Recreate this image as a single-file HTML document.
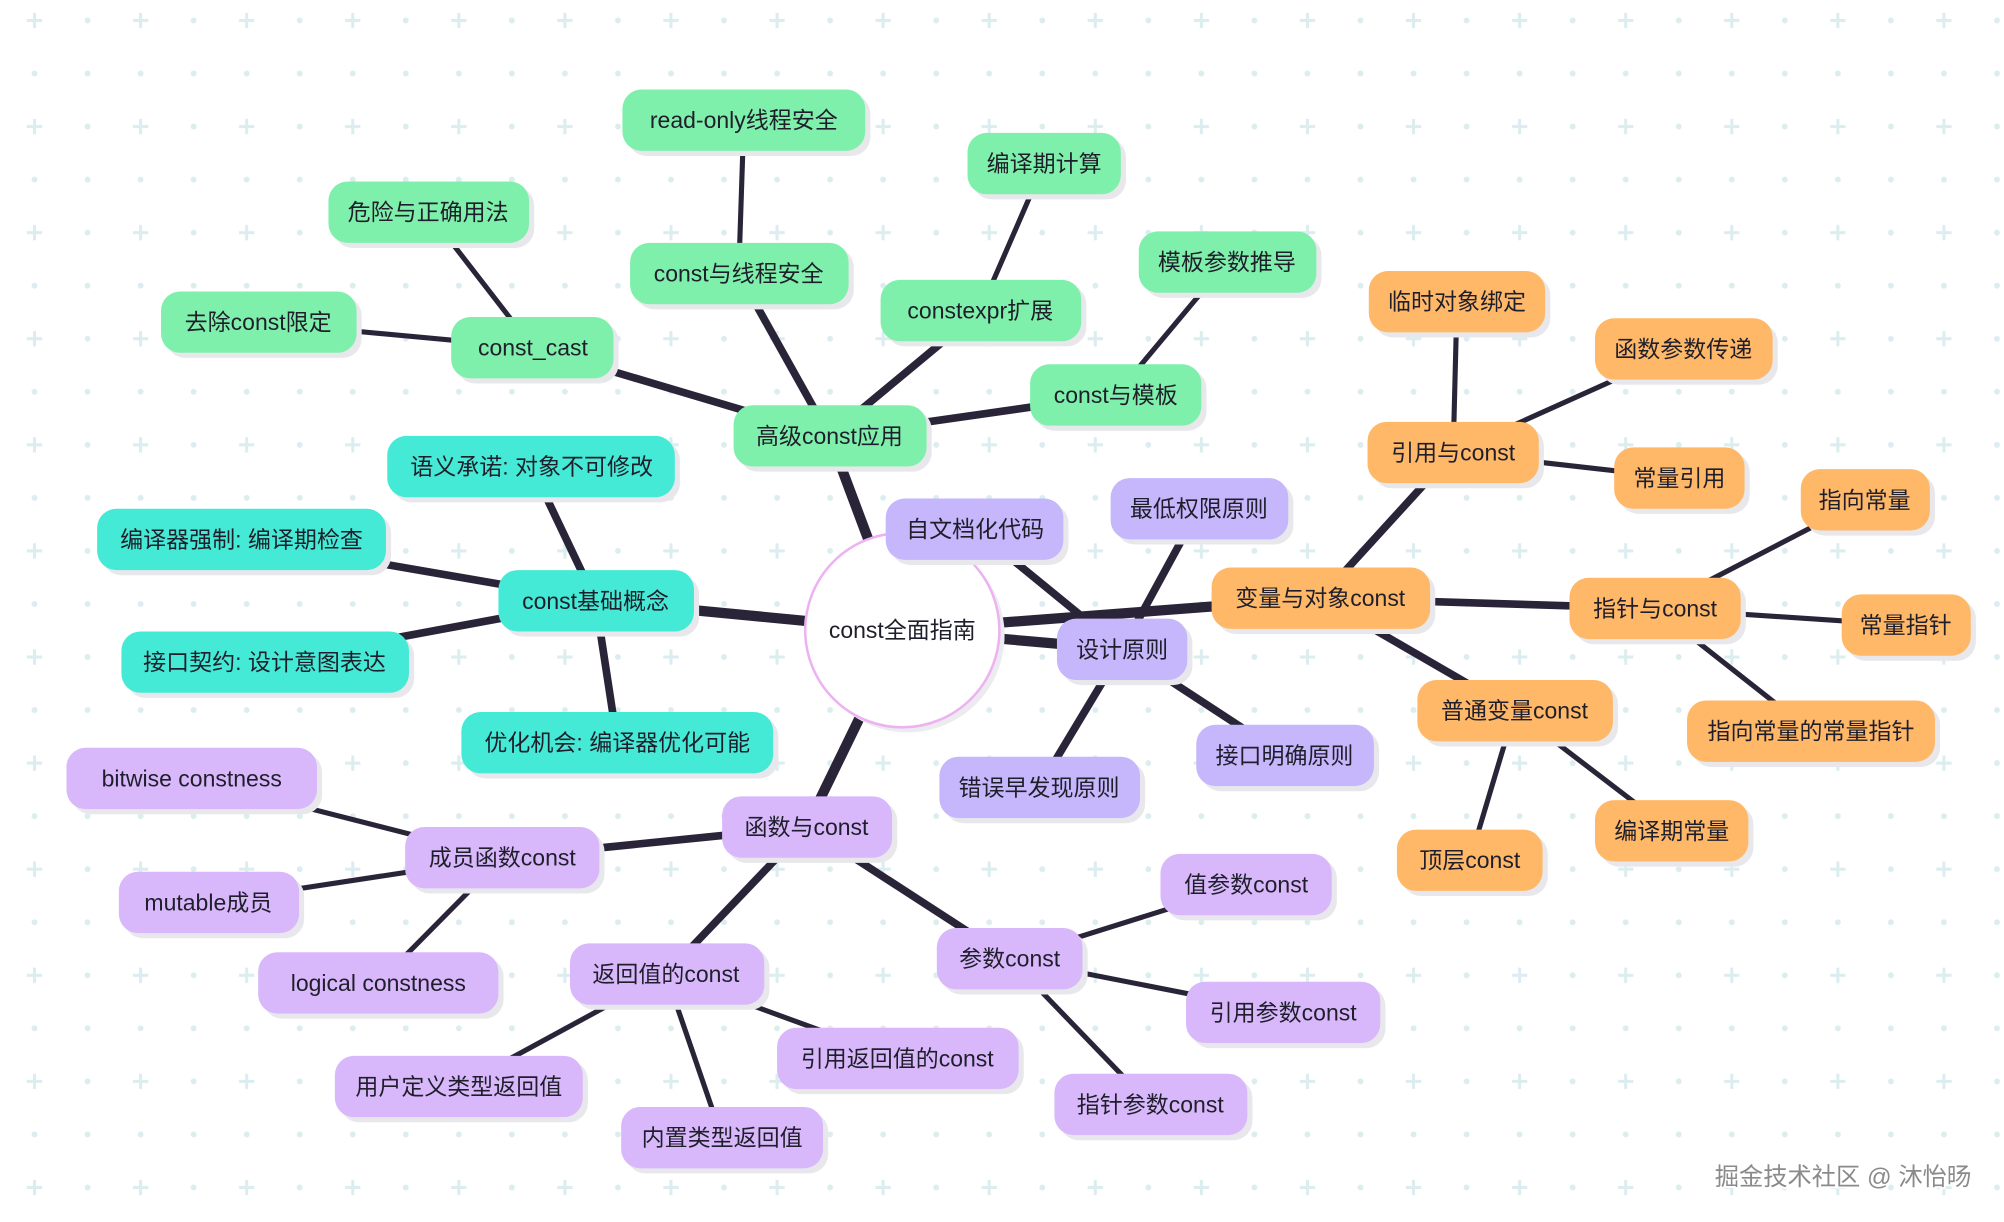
<!DOCTYPE html>
<html><head><meta charset="utf-8"><style>
html,body{margin:0;padding:0;background:#fff;width:2004px;height:1222px;overflow:hidden}
svg{display:block}
text{font-family:"Liberation Sans","Noto Sans CJK SC",sans-serif;font-size:18px;fill:#1f1f2b;text-anchor:middle;dominant-baseline:central}
</style></head><body>
<svg width="2004" height="1222" viewBox="0 0 1568 956" preserveAspectRatio="none" xmlns="http://www.w3.org/2000/svg">
<defs>
<pattern id="g" x="27" y="16" width="83" height="83" patternUnits="userSpaceOnUse">
<g fill="#dcedf0">
<rect x="-1.2" y="-6" width="2.4" height="12"/><rect x="-6" y="-1.2" width="12" height="2.4"/>
<rect x="81.8" y="-6" width="2.4" height="12"/><rect x="77" y="-1.2" width="12" height="2.4"/>
<rect x="-1.2" y="77" width="2.4" height="12"/><rect x="-6" y="81.8" width="12" height="2.4"/>
<rect x="81.8" y="77" width="2.4" height="12"/><rect x="77" y="81.8" width="12" height="2.4"/>
<circle cx="41.5" cy="0" r="2.3"/><circle cx="0" cy="41.5" r="2.3"/><circle cx="41.5" cy="41.5" r="2.3"/>
<circle cx="41.5" cy="83" r="2.3"/><circle cx="83" cy="41.5" r="2.3"/>
</g>
</pattern>
</defs>
<rect width="1568" height="956" fill="url(#g)"/>
<g stroke="#2a2438" stroke-linecap="round">
<g stroke-width="8">
<line x1="706" y1="493" x2="649" y2="341"/><line x1="706" y1="493" x2="466" y2="470"/>
<line x1="706" y1="493" x2="1033" y2="468"/><line x1="706" y1="493" x2="878" y2="508"/>
<line x1="706" y1="493" x2="631" y2="647"/>
</g>
<g stroke-width="6">
<line x1="649" y1="341" x2="417" y2="272"/><line x1="649" y1="341" x2="578" y2="214"/>
<line x1="649" y1="341" x2="767" y2="243"/><line x1="649" y1="341" x2="873" y2="309"/>
<line x1="466" y1="470" x2="416" y2="365"/><line x1="466" y1="470" x2="189" y2="422"/>
<line x1="466" y1="470" x2="207" y2="518"/><line x1="466" y1="470" x2="483" y2="581"/>
<line x1="878" y1="508" x2="763" y2="414"/><line x1="878" y1="508" x2="938" y2="398"/>
<line x1="878" y1="508" x2="1005" y2="591"/><line x1="878" y1="508" x2="813" y2="616"/>
<line x1="1033" y1="468" x2="1137" y2="354"/><line x1="1033" y1="468" x2="1295" y2="476"/>
<line x1="1033" y1="468" x2="1185" y2="556"/>
<line x1="631" y1="647" x2="393" y2="671"/><line x1="631" y1="647" x2="521" y2="762"/>
<line x1="631" y1="647" x2="790" y2="750"/>
</g>
<g stroke-width="4">
<line x1="417" y1="272" x2="335" y2="166"/><line x1="417" y1="272" x2="202" y2="252"/>
<line x1="578" y1="214" x2="582" y2="94"/><line x1="767" y1="243" x2="817" y2="128"/>
<line x1="873" y1="309" x2="960" y2="205"/>
<line x1="1137" y1="354" x2="1140" y2="236"/><line x1="1137" y1="354" x2="1317" y2="273"/>
<line x1="1137" y1="354" x2="1314" y2="374"/>
<line x1="1295" y1="476" x2="1459" y2="391"/><line x1="1295" y1="476" x2="1491" y2="489"/>
<line x1="1295" y1="476" x2="1417" y2="572"/>
<line x1="1185" y1="556" x2="1308" y2="650"/><line x1="1185" y1="556" x2="1150" y2="673"/>
<line x1="393" y1="671" x2="150" y2="609"/><line x1="393" y1="671" x2="163" y2="706"/>
<line x1="393" y1="671" x2="296" y2="769"/>
<line x1="521" y1="762" x2="359" y2="850"/><line x1="521" y1="762" x2="565" y2="890"/>
<line x1="521" y1="762" x2="702" y2="828"/>
<line x1="790" y1="750" x2="975" y2="692"/><line x1="790" y1="750" x2="1004" y2="792"/>
<line x1="790" y1="750" x2="900" y2="864"/>
</g>
</g>
<circle cx="710" cy="497" r="76" fill="#ececf0"/>
<circle cx="706" cy="493" r="76" fill="#fff" stroke="#ecb2f2" stroke-width="2"/>
<text x="706" y="493">const全面指南</text>
<g id="nodes"></g>
<!-- green -->
<g>
<rect x="491" y="74" width="190" height="48" rx="15" fill="#e8e8ec"/><rect x="487" y="70" width="190" height="48" rx="15" fill="#7ff0ab"/><text x="582" y="94">read-only线程安全</text>
<rect x="761" y="108" width="120" height="48" rx="15" fill="#e8e8ec"/><rect x="757" y="104" width="120" height="48" rx="15" fill="#7ff0ab"/><text x="817" y="128">编译期计算</text>
<rect x="261" y="146" width="157" height="48" rx="15" fill="#e8e8ec"/><rect x="257" y="142" width="157" height="48" rx="15" fill="#7ff0ab"/><text x="335" y="166">危险与正确用法</text>
<rect x="497" y="194" width="171" height="48" rx="15" fill="#e8e8ec"/><rect x="493" y="190" width="171" height="48" rx="15" fill="#7ff0ab"/><text x="578" y="214">const与线程安全</text>
<rect x="693" y="223" width="157" height="48" rx="15" fill="#e8e8ec"/><rect x="689" y="219" width="157" height="48" rx="15" fill="#7ff0ab"/><text x="767" y="243">constexpr扩展</text>
<rect x="895" y="185" width="139" height="48" rx="15" fill="#e8e8ec"/><rect x="891" y="181" width="139" height="48" rx="15" fill="#7ff0ab"/><text x="960" y="205">模板参数推导</text>
<rect x="130" y="232" width="153" height="48" rx="15" fill="#e8e8ec"/><rect x="126" y="228" width="153" height="48" rx="15" fill="#7ff0ab"/><text x="202" y="252">去除const限定</text>
<rect x="357" y="252" width="127" height="48" rx="15" fill="#e8e8ec"/><rect x="353" y="248" width="127" height="48" rx="15" fill="#7ff0ab"/><text x="417" y="272">const_cast</text>
<rect x="810" y="289" width="134" height="48" rx="15" fill="#e8e8ec"/><rect x="806" y="285" width="134" height="48" rx="15" fill="#7ff0ab"/><text x="873" y="309">const与模板</text>
<rect x="578" y="321" width="151" height="48" rx="15" fill="#e8e8ec"/><rect x="574" y="317" width="151" height="48" rx="15" fill="#7ff0ab"/><text x="649" y="341">高级const应用</text>
</g>
<!-- teal -->
<g>
<rect x="307" y="345" width="225" height="48" rx="15" fill="#e8e8ec"/><rect x="303" y="341" width="225" height="48" rx="15" fill="#45ead6"/><text x="416" y="365">语义承诺: 对象不可修改</text>
<rect x="80" y="402" width="226" height="48" rx="15" fill="#e8e8ec"/><rect x="76" y="398" width="226" height="48" rx="15" fill="#45ead6"/><text x="189" y="422">编译器强制: 编译期检查</text>
<rect x="394" y="450" width="153" height="48" rx="15" fill="#e8e8ec"/><rect x="390" y="446" width="153" height="48" rx="15" fill="#45ead6"/><text x="466" y="470">const基础概念</text>
<rect x="99" y="498" width="225" height="48" rx="15" fill="#e8e8ec"/><rect x="95" y="494" width="225" height="48" rx="15" fill="#45ead6"/><text x="207" y="518">接口契约: 设计意图表达</text>
<rect x="365" y="561" width="244" height="48" rx="15" fill="#e8e8ec"/><rect x="361" y="557" width="244" height="48" rx="15" fill="#45ead6"/><text x="483" y="581">优化机会: 编译器优化可能</text>
</g>
<!-- purple -->
<g>
<rect x="697" y="394" width="139" height="48" rx="15" fill="#e8e8ec"/><rect x="693" y="390" width="139" height="48" rx="15" fill="#c6b6fb"/><text x="763" y="414">自文档化代码</text>
<rect x="873" y="378" width="139" height="48" rx="15" fill="#e8e8ec"/><rect x="869" y="374" width="139" height="48" rx="15" fill="#c6b6fb"/><text x="938" y="398">最低权限原则</text>
<rect x="831" y="488" width="102" height="48" rx="15" fill="#e8e8ec"/><rect x="827" y="484" width="102" height="48" rx="15" fill="#c6b6fb"/><text x="878" y="508">设计原则</text>
<rect x="940" y="571" width="139" height="48" rx="15" fill="#e8e8ec"/><rect x="936" y="567" width="139" height="48" rx="15" fill="#c6b6fb"/><text x="1005" y="591">接口明确原则</text>
<rect x="739" y="596" width="157" height="48" rx="15" fill="#e8e8ec"/><rect x="735" y="592" width="157" height="48" rx="15" fill="#c6b6fb"/><text x="813" y="616">错误早发现原则</text>
<rect x="56" y="589" width="196" height="48" rx="15" fill="#e8e8ec"/><rect x="52" y="585" width="196" height="48" rx="15" fill="#d8b8fb"/><text x="150" y="609">bitwise constness</text>
<rect x="569" y="627" width="133" height="48" rx="15" fill="#e8e8ec"/><rect x="565" y="623" width="133" height="48" rx="15" fill="#d8b8fb"/><text x="631" y="647">函数与const</text>
<rect x="321" y="651" width="152" height="48" rx="15" fill="#e8e8ec"/><rect x="317" y="647" width="152" height="48" rx="15" fill="#d8b8fb"/><text x="393" y="671">成员函数const</text>
<rect x="97" y="686" width="141" height="48" rx="15" fill="#e8e8ec"/><rect x="93" y="682" width="141" height="48" rx="15" fill="#d8b8fb"/><text x="163" y="706">mutable成员</text>
<rect x="912" y="672" width="134" height="48" rx="15" fill="#e8e8ec"/><rect x="908" y="668" width="134" height="48" rx="15" fill="#d8b8fb"/><text x="975" y="692">值参数const</text>
<rect x="737" y="730" width="114" height="48" rx="15" fill="#e8e8ec"/><rect x="733" y="726" width="114" height="48" rx="15" fill="#d8b8fb"/><text x="790" y="750">参数const</text>
<rect x="206" y="749" width="188" height="48" rx="15" fill="#e8e8ec"/><rect x="202" y="745" width="188" height="48" rx="15" fill="#d8b8fb"/><text x="296" y="769">logical constness</text>
<rect x="450" y="742" width="152" height="48" rx="15" fill="#e8e8ec"/><rect x="446" y="738" width="152" height="48" rx="15" fill="#d8b8fb"/><text x="521" y="762">返回值的const</text>
<rect x="932" y="772" width="152" height="48" rx="15" fill="#e8e8ec"/><rect x="928" y="768" width="152" height="48" rx="15" fill="#d8b8fb"/><text x="1004" y="792">引用参数const</text>
<rect x="612" y="808" width="189" height="48" rx="15" fill="#e8e8ec"/><rect x="608" y="804" width="189" height="48" rx="15" fill="#d8b8fb"/><text x="702" y="828">引用返回值的const</text>
<rect x="266" y="830" width="194" height="48" rx="15" fill="#e8e8ec"/><rect x="262" y="826" width="194" height="48" rx="15" fill="#d8b8fb"/><text x="359" y="850">用户定义类型返回值</text>
<rect x="829" y="844" width="151" height="48" rx="15" fill="#e8e8ec"/><rect x="825" y="840" width="151" height="48" rx="15" fill="#d8b8fb"/><text x="900" y="864">指针参数const</text>
<rect x="490" y="870" width="158" height="48" rx="15" fill="#e8e8ec"/><rect x="486" y="866" width="158" height="48" rx="15" fill="#d8b8fb"/><text x="565" y="890">内置类型返回值</text>
</g>
<!-- orange -->
<g>
<rect x="1075" y="216" width="138" height="48" rx="15" fill="#e8e8ec"/><rect x="1071" y="212" width="138" height="48" rx="15" fill="#ffb868"/><text x="1140" y="236">临时对象绑定</text>
<rect x="1252" y="253" width="139" height="48" rx="15" fill="#e8e8ec"/><rect x="1248" y="249" width="139" height="48" rx="15" fill="#ffb868"/><text x="1317" y="273">函数参数传递</text>
<rect x="1074" y="334" width="134" height="48" rx="15" fill="#e8e8ec"/><rect x="1070" y="330" width="134" height="48" rx="15" fill="#ffb868"/><text x="1137" y="354">引用与const</text>
<rect x="1267" y="354" width="102" height="48" rx="15" fill="#e8e8ec"/><rect x="1263" y="350" width="102" height="48" rx="15" fill="#ffb868"/><text x="1314" y="374">常量引用</text>
<rect x="1413" y="371" width="101" height="48" rx="15" fill="#e8e8ec"/><rect x="1409" y="367" width="101" height="48" rx="15" fill="#ffb868"/><text x="1459" y="391">指向常量</text>
<rect x="952" y="448" width="171" height="48" rx="15" fill="#e8e8ec"/><rect x="948" y="444" width="171" height="48" rx="15" fill="#ffb868"/><text x="1033" y="468">变量与对象const</text>
<rect x="1232" y="456" width="134" height="48" rx="15" fill="#e8e8ec"/><rect x="1228" y="452" width="134" height="48" rx="15" fill="#ffb868"/><text x="1295" y="476">指针与const</text>
<rect x="1445" y="469" width="101" height="48" rx="15" fill="#e8e8ec"/><rect x="1441" y="465" width="101" height="48" rx="15" fill="#ffb868"/><text x="1491" y="489">常量指针</text>
<rect x="1113" y="536" width="153" height="48" rx="15" fill="#e8e8ec"/><rect x="1109" y="532" width="153" height="48" rx="15" fill="#ffb868"/><text x="1185" y="556">普通变量const</text>
<rect x="1324" y="552" width="194" height="48" rx="15" fill="#e8e8ec"/><rect x="1320" y="548" width="194" height="48" rx="15" fill="#ffb868"/><text x="1417" y="572">指向常量的常量指针</text>
<rect x="1252" y="630" width="120" height="48" rx="15" fill="#e8e8ec"/><rect x="1248" y="626" width="120" height="48" rx="15" fill="#ffb868"/><text x="1308" y="650">编译期常量</text>
<rect x="1097" y="653" width="114" height="48" rx="15" fill="#e8e8ec"/><rect x="1093" y="649" width="114" height="48" rx="15" fill="#ffb868"/><text x="1150" y="673">顶层const</text>
</g>
<text x="1442" y="921" style="font-size:19px;fill:#8a8a8a;stroke:#fff;stroke-width:3;paint-order:stroke">掘金技术社区 @ 沐怡旸</text>
</svg>
</body></html>
